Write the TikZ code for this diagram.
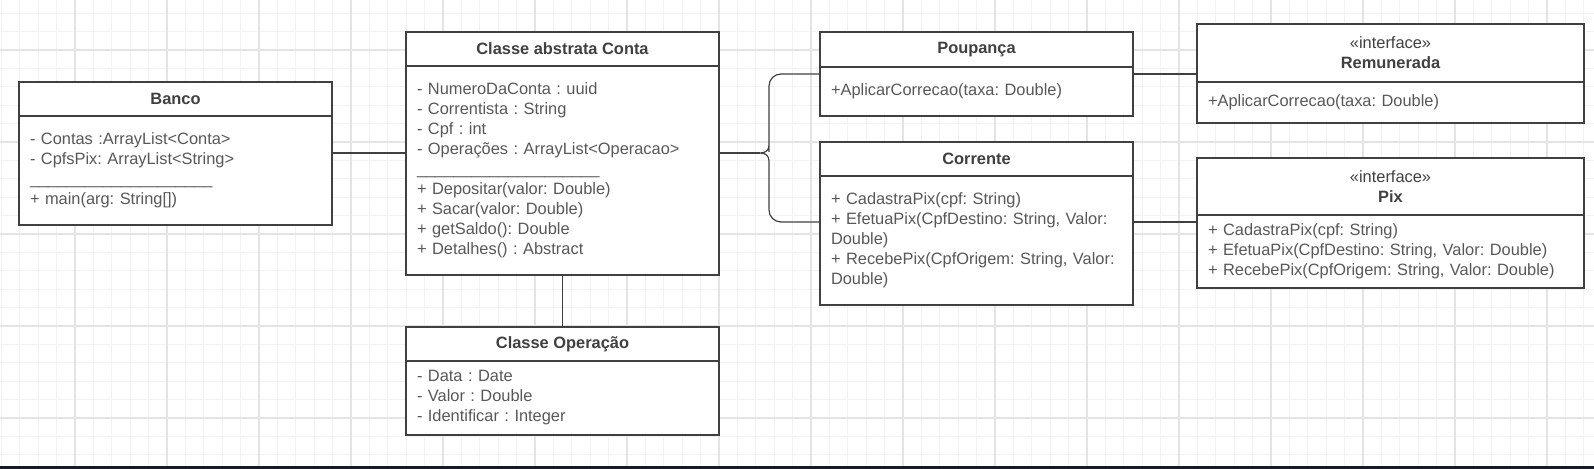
\documentclass[tikz,border=0pt]{standalone}
\usepackage{fontspec}
\setmainfont{Liberation Sans}
\usepackage{tikz}
\usetikzlibrary{positioning}

\definecolor{linha}{RGB}{64,64,64}
\definecolor{texto}{RGB}{88,88,88}
\definecolor{grade}{RGB}{242,242,242}
\definecolor{gradeforte}{RGB}{228,228,228}
\definecolor{faixa}{RGB}{22,28,36}

\tikzset{
  cabecalho/.style={draw=linha, fill=white, line width=1pt, anchor=north west,
    inner sep=0pt, outer sep=0pt, text=linha, align=center,
    font=\fontsize{8.2}{10}\selectfont\bfseries},
  corpo/.style={draw=linha, fill=white, line width=1pt, anchor=north,
    inner xsep=5.5pt, inner ysep=0pt, outer sep=0pt, text=texto, align=left,
    font=\fontsize{8.2}{10}\selectfont\frenchspacing},
  ligacao/.style={draw=linha, line width=0.6pt}
}

\newcommand{\separador}{\_\_\_\_\_\_\_\_\_\_\_\_\_\_\_\_\_\_\_\_}

\begin{document}
\frenchspacing
\begin{tikzpicture}[x=0.5pt, y=-0.5pt]
        \useasboundingbox[fill=white] (0,0) rectangle (1594,469);

        % Grade
        \foreach \i in {0,...,86}
            \draw[grade, line width=0.5pt] ({1.4+18.4*\i},0) -- ++(0,469);
        \foreach \j in {0,...,24}
            \draw[grade, line width=0.5pt] (0,{13.2+18.4*\j}) -- ++(1594,0);
        \foreach \i in {0,...,16}
            \draw[gradeforte, line width=0.6pt] ({75+92*\i},0) -- ++(0,469);
        \foreach \j in {0,...,4}
            \draw[gradeforte, line width=0.6pt] (0,{50+92*\j}) -- ++(1594,0);
        \fill[faixa] (0,466.5) rectangle (1594,469);

        % Banco
        \node[cabecalho, minimum width=156.5pt, minimum height=17pt] (banco) at (19,82) {Banco};
        \node[corpo, minimum width=156.5pt, text width=145.5pt, minimum height=54.5pt] (banco-corpo) at (banco.south)
            {- Contas :ArrayList<Conta>\\
             - CpfsPix: ArrayList<String>\\
             \separador\\
             + main(arg: String[])};

        % Conta
        \node[cabecalho, minimum width=156.5pt, minimum height=17pt] (conta) at (406,32) {Classe abstrata Conta};
        \node[corpo, minimum width=156.5pt, text width=145.5pt, minimum height=104.5pt] (conta-corpo) at (conta.south)
            {- NumeroDaConta : uuid\\
             - Correntista : String\\
             - Cpf : int\\
             - Operações : ArrayList<Operacao>\\
             \separador\\
             + Depositar(valor: Double)\\
             + Sacar(valor: Double)\\
             + getSaldo(): Double\\
             + Detalhes() : Abstract};

        % Operacao
        \node[cabecalho, minimum width=156.5pt, minimum height=17pt] (operacao) at (406,327) {Classe Operação};
        \node[corpo, minimum width=156.5pt, text width=145.5pt, minimum height=37pt] (operacao-corpo) at (operacao.south)
            {- Data : Date\\
             - Valor : Double\\
             - Identificar : Integer};

        % Poupanca
        \node[cabecalho, minimum width=156.5pt, minimum height=17.5pt] (poupanca) at (820,32) {Poupança};
        \node[corpo, minimum width=156.5pt, text width=145.5pt, minimum height=24.5pt] (poupanca-corpo) at (poupanca.south)
            {+AplicarCorrecao(taxa: Double)};

        % Corrente
        \node[cabecalho, minimum width=156.5pt, minimum height=17pt] (corrente) at (820,142) {Corrente};
        \node[corpo, minimum width=156.5pt, text width=145.5pt, minimum height=64.5pt] (corrente-corpo) at (corrente.south)
            {+ CadastraPix(cpf: String)\\
             + EfetuaPix(CpfDestino: String, Valor:\\
             Double)\\
             + RecebePix(CpfOrigem: String, Valor:\\
             Double)};

        % Interfaces
        \node[cabecalho, minimum width=193.5pt, minimum height=29pt] (remunerada) at (1197,24)
            {{\mdseries «interface»}\\Remunerada};
        \node[corpo, minimum width=193.5pt, text width=182.5pt, minimum height=20.5pt] (remunerada-corpo) at (remunerada.south)
            {+AplicarCorrecao(taxa: Double)};

        \node[cabecalho, minimum width=193.5pt, minimum height=28.5pt] (pix) at (1197,158)
            {{\mdseries «interface»}\\Pix};
        \node[corpo, minimum width=193.5pt, text width=182.5pt, minimum height=36.5pt] (pix-corpo) at (pix.south)
            {+ CadastraPix(cpf: String)\\
             + EfetuaPix(CpfDestino: String, Valor: Double)\\
             + RecebePix(CpfOrigem: String, Valor: Double)};

        % Ligacoes
        \coordinate (y-banco) at (0,153);
        \coordinate (ponta) at (760,153);
        \coordinate (y-poup) at (0,74);
        \coordinate (y-corr) at (0,222);

        \draw[ligacao] (banco-corpo.east |- y-banco) -- (conta-corpo.west |- y-banco);
        \draw[ligacao] (conta-corpo.east |- ponta) -- (ponta);
        \draw[ligacao] (poupanca-corpo.west |- y-poup) [rounded corners=6pt] -| (769,140) [sharp corners]
            -- (769,145) .. controls (769,150) and (766,153) .. (ponta)
            .. controls (766,153) and (769,156) .. (769,161)
            [rounded corners=6pt] |- (corrente-corpo.west |- y-corr);
        \draw[ligacao] (poupanca-corpo.east |- y-poup) -- (remunerada.west |- y-poup);
        \draw[ligacao] (corrente-corpo.east |- y-corr) -- (pix-corpo.west |- y-corr);
        \draw[ligacao] (conta-corpo.south) -- (operacao.north);
    \end{tikzpicture}
\end{document}
